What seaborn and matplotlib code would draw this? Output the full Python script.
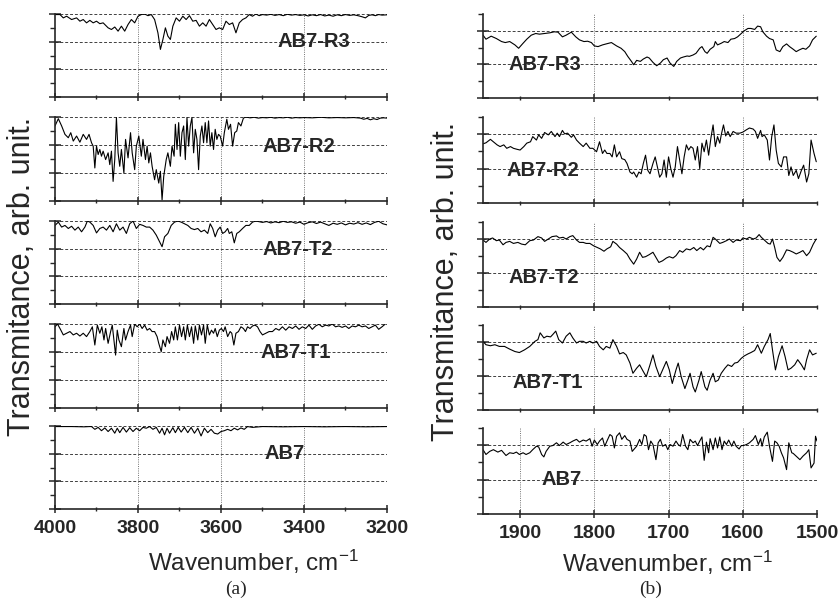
import matplotlib
matplotlib.use("Agg")
import matplotlib.pyplot as plt
from matplotlib.ticker import MultipleLocator
import seaborn as sns

sns.set_style("ticks")
plt.rcParams["font.family"] = ["Liberation Sans", "DejaVu Sans"]
plt.rcParams["mathtext.default"] = "regular"

# ---- data: (wavenumber, transmittance) ----
samples = ["AB7-R3", "AB7-R2", "AB7-T2", "AB7-T1", "AB7"]

# (a) 4000-3200 cm-1
hw_r3 = [(4000, 2.98), (3988, 2.98), (3980, 2.86), (3972, 2.92), (3960, 2.80), (3948, 2.86), (3940, 2.74),
         (3932, 2.80), (3924, 2.68), (3916, 2.77), (3908, 2.68), (3900, 2.74), (3892, 2.65), (3884, 2.68),
         (3872, 2.50), (3864, 2.44), (3856, 2.53), (3848, 2.38), (3840, 2.56), (3832, 2.38), (3824, 2.62),
         (3816, 2.80), (3808, 2.68), (3800, 2.92), (3792, 2.98), (3784, 3.00), (3776, 2.94), (3768, 2.98),
         (3760, 2.80), (3752, 2.32), (3746, 1.72), (3740, 2.08), (3734, 2.50), (3728, 2.20), (3722, 2.08),
         (3716, 2.56), (3708, 2.86), (3700, 2.74), (3692, 2.92), (3684, 2.80), (3676, 2.94), (3668, 2.74),
         (3660, 2.77), (3652, 2.56), (3644, 2.68), (3636, 2.56), (3628, 2.80), (3620, 2.62), (3612, 2.44),
         (3604, 2.50), (3596, 2.44), (3588, 2.74), (3580, 2.62), (3572, 2.68), (3564, 2.32), (3556, 2.68),
         (3548, 2.80), (3540, 2.86), (3532, 2.98), (3524, 2.92), (3516, 3.00), (3508, 2.94), (3500, 2.98),
         (3490, 2.96), (3480, 2.99), (3470, 2.95), (3460, 2.98), (3450, 2.94), (3440, 2.99), (3430, 2.96),
         (3420, 2.98), (3410, 2.95), (3400, 2.97), (3390, 2.93), (3380, 2.97), (3370, 2.94), (3360, 2.98),
         (3350, 2.93), (3340, 2.96), (3330, 2.92), (3320, 2.97), (3310, 2.94), (3300, 2.98), (3290, 2.95),
         (3280, 2.97), (3270, 2.94), (3260, 2.90), (3252, 2.86), (3244, 2.95), (3236, 2.97), (3228, 2.94),
         (3220, 2.98), (3212, 2.96), (3200, 2.97)]

hw_r2 = [(4000, 2.68), (3992, 2.94), (3984, 2.68), (3976, 2.38), (3968, 2.26), (3962, 2.44), (3956, 2.14),
         (3948, 2.32), (3940, 2.10), (3932, 2.38), (3924, 2.20), (3918, 2.38), (3912, 2.08), (3908, 1.96),
         (3904, 1.18), (3900, 1.96), (3896, 1.66), (3892, 1.84), (3888, 1.60), (3884, 1.78), (3878, 1.48),
         (3872, 1.72), (3868, 1.30), (3864, 1.78), (3860, 0.70), (3856, 1.48), (3852, 2.98), (3848, 1.72),
         (3844, 1.24), (3840, 1.84), (3834, 1.00), (3830, 2.20), (3824, 1.54), (3818, 2.44), (3814, 1.72),
         (3808, 1.12), (3804, 1.96), (3798, 2.32), (3792, 1.60), (3788, 2.20), (3782, 1.48), (3778, 1.96),
         (3774, 1.36), (3770, 1.72), (3766, 1.24), (3760, 0.76), (3756, 1.12), (3750, 0.64), (3746, 1.06),
         (3742, 0.04), (3738, 0.88), (3732, 1.48), (3728, 1.72), (3722, 1.24), (3718, 1.96), (3713, 1.60),
         (3710, 2.74), (3706, 1.84), (3702, 2.80), (3698, 1.60), (3694, 2.44), (3690, 2.68), (3686, 1.48),
         (3682, 2.98), (3678, 1.96), (3674, 2.68), (3670, 2.98), (3666, 1.72), (3662, 2.56), (3658, 2.20),
         (3654, 1.12), (3650, 2.32), (3646, 2.68), (3642, 2.08), (3638, 2.80), (3634, 2.08), (3630, 2.86),
         (3626, 1.96), (3622, 2.44), (3618, 1.84), (3614, 2.56), (3610, 2.20), (3606, 2.38), (3602, 2.32),
         (3596, 1.96), (3592, 2.44), (3586, 2.92), (3582, 2.56), (3577, 2.74), (3572, 1.96), (3567, 2.44),
         (3562, 2.50), (3558, 2.80), (3552, 2.68), (3546, 2.96), (3540, 3.00), (3530, 2.97), (3520, 2.99),
         (3510, 2.96), (3500, 2.98), (3490, 2.97), (3480, 2.99), (3470, 2.96), (3460, 2.98), (3450, 2.97),
         (3440, 2.99), (3430, 2.96), (3420, 2.98), (3410, 2.97), (3400, 2.98), (3380, 2.97), (3360, 2.99),
         (3340, 2.97), (3320, 2.98), (3300, 2.97), (3280, 2.98), (3264, 2.96), (3256, 2.92), (3248, 2.95),
         (3240, 2.90), (3232, 2.94), (3224, 2.91), (3216, 2.96), (3208, 2.97), (3200, 2.96)]

hw_t2 = [(4000, 2.84), (3992, 2.96), (3984, 2.78), (3976, 2.84), (3968, 2.73), (3960, 2.81), (3952, 2.67),
         (3944, 2.78), (3936, 2.61), (3928, 2.78), (3922, 3.00), (3916, 2.96), (3908, 2.84), (3900, 2.57),
         (3892, 2.73), (3884, 2.78), (3876, 2.67), (3868, 2.84), (3860, 2.61), (3852, 2.90), (3844, 2.67),
         (3836, 2.78), (3828, 2.55), (3820, 2.90), (3812, 3.00), (3804, 2.73), (3796, 2.88), (3788, 2.84),
         (3780, 2.78), (3772, 2.78), (3764, 2.67), (3756, 2.49), (3748, 2.25), (3742, 2.07), (3736, 2.43),
         (3728, 2.55), (3720, 2.84), (3712, 2.96), (3704, 3.00), (3696, 2.96), (3688, 2.90), (3680, 2.84),
         (3672, 2.73), (3664, 2.69), (3656, 2.73), (3648, 2.61), (3640, 2.67), (3632, 2.55), (3626, 2.90),
         (3620, 2.73), (3614, 2.43), (3608, 2.67), (3602, 2.78), (3596, 2.55), (3590, 2.61), (3584, 2.73),
         (3580, 2.55), (3574, 2.61), (3568, 2.21), (3562, 2.55), (3556, 2.61), (3548, 2.73), (3540, 2.84),
         (3532, 2.84), (3524, 2.96), (3516, 3.00), (3500, 2.95), (3490, 2.98), (3480, 2.93), (3470, 2.97),
         (3460, 2.94), (3450, 2.99), (3440, 2.95), (3430, 2.97), (3420, 2.92), (3410, 2.96), (3400, 2.88),
         (3390, 2.94), (3380, 2.97), (3370, 2.91), (3360, 2.96), (3350, 2.90), (3340, 2.84), (3330, 2.92),
         (3320, 2.88), (3310, 2.93), (3300, 2.86), (3290, 2.92), (3280, 2.89), (3270, 2.94), (3260, 2.88),
         (3250, 2.93), (3240, 2.87), (3230, 2.95), (3220, 2.99), (3210, 2.90), (3200, 2.86)]

hw_t1 = [(4000, 2.90), (3994, 3.00), (3988, 2.84), (3980, 2.61), (3972, 2.67), (3964, 2.73), (3956, 2.61),
         (3948, 2.67), (3940, 2.57), (3932, 2.67), (3924, 2.55), (3916, 2.73), (3910, 2.90), (3904, 2.25),
         (3898, 2.96), (3892, 2.67), (3887, 2.90), (3882, 2.43), (3878, 2.84), (3872, 2.31), (3866, 2.73),
         (3862, 2.96), (3854, 1.89), (3850, 2.78), (3846, 2.43), (3840, 2.19), (3834, 2.84), (3830, 2.43),
         (3824, 2.73), (3818, 2.96), (3814, 2.55), (3808, 3.00), (3802, 2.90), (3796, 3.00), (3790, 2.84),
         (3784, 2.96), (3778, 2.78), (3772, 2.84), (3766, 2.73), (3760, 2.73), (3754, 2.55), (3750, 2.31),
         (3744, 2.01), (3740, 2.43), (3734, 2.19), (3730, 2.55), (3724, 2.31), (3719, 2.73), (3714, 2.43),
         (3710, 2.90), (3705, 2.43), (3700, 2.96), (3695, 2.55), (3690, 2.90), (3686, 2.43), (3681, 2.96),
         (3676, 2.55), (3671, 2.90), (3666, 2.31), (3662, 2.93), (3656, 2.43), (3652, 2.96), (3647, 2.61),
         (3642, 2.96), (3638, 2.31), (3633, 2.96), (3628, 2.61), (3623, 2.78), (3618, 2.67), (3614, 2.84),
         (3609, 2.55), (3604, 2.78), (3599, 2.84), (3594, 2.73), (3590, 2.90), (3584, 2.55), (3578, 2.73),
         (3574, 2.67), (3569, 2.25), (3564, 2.67), (3558, 2.73), (3552, 2.90), (3546, 2.84), (3541, 2.73),
         (3536, 2.90), (3530, 2.84), (3524, 2.93), (3518, 2.96), (3512, 2.90), (3506, 2.73), (3500, 2.61),
         (3492, 2.67), (3484, 2.73), (3476, 2.73), (3468, 2.84), (3460, 2.78), (3452, 2.90), (3444, 2.78),
         (3436, 2.90), (3428, 2.84), (3420, 2.93), (3412, 2.81), (3404, 2.90), (3396, 2.84), (3388, 2.96),
         (3380, 2.81), (3372, 2.93), (3364, 2.99), (3356, 2.90), (3348, 2.96), (3340, 2.93), (3332, 3.00),
         (3324, 2.90), (3316, 2.93), (3308, 2.88), (3300, 2.93), (3292, 2.84), (3284, 2.93), (3276, 2.90),
         (3268, 2.96), (3260, 2.90), (3252, 2.93), (3244, 2.84), (3236, 2.90), (3228, 2.96), (3220, 2.81),
         (3212, 2.90), (3204, 3.00)]

hw_ab7 = [(4000, 2.98), (3960, 2.98), (3930, 2.97), (3916, 2.98), (3912, 2.98), (3904, 2.88), (3896, 2.95),
          (3888, 2.83), (3880, 2.93), (3872, 2.80), (3864, 2.92), (3856, 2.74), (3850, 2.92), (3844, 2.76),
          (3836, 2.95), (3828, 2.78), (3820, 2.94), (3812, 2.80), (3804, 2.92), (3796, 2.83), (3788, 2.95),
          (3780, 2.92), (3772, 2.98), (3764, 2.88), (3756, 2.95), (3748, 2.74), (3742, 2.92), (3736, 2.68),
          (3730, 2.92), (3724, 2.74), (3716, 2.94), (3710, 2.76), (3703, 2.95), (3696, 2.78), (3688, 2.95),
          (3680, 2.76), (3672, 2.95), (3664, 2.74), (3656, 2.92), (3648, 2.64), (3640, 2.92), (3632, 2.76),
          (3624, 2.88), (3616, 2.74), (3608, 2.71), (3600, 2.80), (3592, 2.83), (3584, 2.88), (3576, 2.83),
          (3568, 2.92), (3560, 2.86), (3552, 2.93), (3544, 2.88), (3536, 2.98), (3524, 2.95), (3500, 2.98),
          (3450, 2.97), (3400, 2.98), (3350, 2.97), (3300, 2.98), (3250, 2.97), (3200, 2.98)]

# (b) 1950-1500 cm-1
lw_r3 = [(1950, 1.87), (1946, 1.75), (1939, 1.84), (1932, 1.77), (1925, 1.68), (1920, 1.65), (1914, 1.68),
         (1907, 1.58), (1902, 1.48), (1896, 1.63), (1891, 1.75), (1885, 1.87), (1879, 1.92), (1874, 1.90),
         (1867, 1.92), (1860, 1.94), (1854, 1.97), (1849, 1.96), (1843, 1.82), (1838, 1.87), (1831, 1.96),
         (1825, 1.82), (1820, 1.73), (1814, 1.68), (1809, 1.69), (1804, 1.65), (1800, 1.55), (1795, 1.53),
         (1789, 1.58), (1784, 1.61), (1777, 1.65), (1770, 1.55), (1764, 1.48), (1759, 1.38), (1755, 1.24),
         (1750, 1.09), (1747, 0.99), (1743, 1.12), (1738, 1.09), (1734, 1.16), (1729, 1.22), (1726, 1.19),
         (1721, 1.06), (1716, 0.96), (1711, 1.04), (1707, 1.14), (1702, 1.19), (1698, 1.04), (1693, 0.94),
         (1689, 1.09), (1684, 1.19), (1680, 1.22), (1675, 1.25), (1672, 1.24), (1667, 1.28), (1663, 1.33),
         (1658, 1.48), (1655, 1.53), (1651, 1.38), (1648, 1.33), (1644, 1.45), (1639, 1.53), (1637, 1.68),
         (1634, 1.58), (1629, 1.63), (1625, 1.68), (1620, 1.65), (1616, 1.75), (1611, 1.77), (1607, 1.82),
         (1602, 1.92), (1598, 2.00), (1593, 2.07), (1589, 2.07), (1584, 2.04), (1580, 2.14), (1576, 2.12),
         (1573, 1.97), (1568, 1.84), (1564, 1.77), (1559, 1.73), (1555, 1.43), (1550, 1.38), (1546, 1.53),
         (1541, 1.61), (1537, 1.53), (1532, 1.45), (1528, 1.38), (1524, 1.43), (1519, 1.48), (1515, 1.45),
         (1510, 1.55), (1506, 1.73), (1501, 1.84)]

lw_r2 = [(1950, 1.72), (1946, 1.75), (1940, 1.85), (1936, 1.78), (1931, 1.69), (1927, 1.64), (1922, 1.69),
         (1918, 1.59), (1913, 1.64), (1909, 1.59), (1904, 1.56), (1900, 1.54), (1895, 1.64), (1891, 1.74),
         (1886, 1.78), (1883, 1.93), (1878, 1.83), (1875, 1.98), (1871, 1.88), (1867, 2.05), (1862, 1.98),
         (1858, 2.08), (1853, 1.93), (1850, 2.03), (1847, 1.93), (1843, 2.11), (1840, 2.01), (1836, 2.03),
         (1831, 1.91), (1828, 1.98), (1824, 1.83), (1820, 1.74), (1815, 1.64), (1811, 1.74), (1806, 1.59),
         (1802, 1.59), (1797, 1.49), (1793, 1.78), (1789, 1.44), (1786, 1.54), (1783, 1.44), (1779, 1.44),
         (1776, 1.34), (1773, 1.69), (1770, 1.34), (1766, 1.49), (1763, 1.29), (1759, 1.26), (1756, 1.15),
         (1752, 0.90), (1749, 0.85), (1747, 0.90), (1743, 0.75), (1740, 0.90), (1737, 0.85), (1734, 1.15),
         (1731, 1.39), (1728, 0.95), (1725, 0.85), (1721, 1.15), (1718, 1.34), (1715, 1.05), (1712, 0.75),
         (1709, 0.85), (1706, 1.25), (1703, 0.75), (1700, 1.34), (1697, 1.00), (1694, 0.75), (1691, 1.05),
         (1688, 1.64), (1685, 1.25), (1682, 0.85), (1679, 1.34), (1676, 1.69), (1673, 1.54), (1670, 1.64),
         (1667, 1.59), (1664, 1.25), (1661, 1.64), (1658, 1.00), (1655, 1.74), (1652, 1.49), (1649, 1.83),
         (1646, 1.39), (1643, 1.88), (1640, 2.27), (1637, 1.64), (1634, 1.93), (1631, 1.74), (1629, 1.98),
         (1626, 2.27), (1623, 1.95), (1620, 2.08), (1617, 1.93), (1613, 2.08), (1609, 2.03), (1604, 2.03),
         (1600, 2.06), (1595, 2.13), (1591, 2.18), (1586, 2.15), (1583, 2.08), (1580, 1.88), (1576, 2.11),
         (1574, 1.93), (1571, 1.98), (1567, 1.83), (1564, 1.25), (1561, 1.93), (1558, 2.27), (1555, 1.54),
         (1552, 1.15), (1548, 1.05), (1545, 1.34), (1541, 1.34), (1538, 0.80), (1535, 1.05), (1532, 0.80),
         (1528, 0.95), (1525, 0.71), (1521, 0.95), (1518, 1.10), (1514, 0.61), (1511, 0.85), (1508, 1.83),
         (1504, 1.44), (1501, 1.20)]

lw_t2 = [(1950, 1.97), (1946, 1.90), (1941, 2.00), (1937, 2.03), (1932, 1.95), (1928, 1.97), (1923, 1.83),
         (1919, 1.90), (1914, 1.93), (1909, 1.87), (1903, 1.90), (1898, 1.85), (1893, 1.83), (1887, 1.95),
         (1882, 1.97), (1876, 2.07), (1871, 2.03), (1867, 1.93), (1862, 2.00), (1857, 2.07), (1851, 2.09),
         (1847, 2.03), (1842, 2.05), (1838, 2.00), (1833, 2.07), (1829, 2.10), (1824, 1.97), (1820, 1.90),
         (1815, 1.90), (1811, 1.87), (1806, 1.87), (1801, 1.80), (1796, 1.75), (1792, 1.71), (1787, 1.64),
         (1783, 1.71), (1778, 1.77), (1775, 1.93), (1770, 1.85), (1766, 1.75), (1761, 1.66), (1756, 1.56),
         (1752, 1.41), (1747, 1.26), (1743, 1.41), (1739, 1.61), (1735, 1.46), (1731, 1.48), (1726, 1.54),
         (1721, 1.61), (1717, 1.46), (1713, 1.31), (1708, 1.36), (1703, 1.44), (1699, 1.48), (1694, 1.44),
         (1690, 1.51), (1685, 1.66), (1681, 1.61), (1676, 1.71), (1671, 1.68), (1666, 1.75), (1662, 1.66),
         (1657, 1.75), (1653, 1.68), (1648, 1.80), (1644, 1.77), (1640, 2.05), (1637, 2.00), (1631, 1.87),
         (1627, 1.90), (1622, 1.95), (1618, 2.00), (1613, 1.90), (1609, 1.97), (1603, 1.95), (1600, 2.03),
         (1595, 2.00), (1591, 2.05), (1586, 2.00), (1582, 2.03), (1578, 2.13), (1575, 2.05), (1571, 1.97),
         (1566, 1.87), (1563, 1.85), (1560, 2.00), (1557, 1.75), (1554, 1.46), (1550, 1.34), (1546, 1.46),
         (1541, 1.68), (1537, 1.66), (1532, 1.61), (1528, 1.56), (1523, 1.61), (1519, 1.66), (1514, 1.51),
         (1510, 1.61), (1505, 1.85), (1501, 2.00)]

lw_t1 = [(1950, 2.02), (1946, 1.92), (1940, 1.89), (1934, 1.92), (1928, 1.87), (1921, 1.87), (1914, 1.79),
         (1907, 1.72), (1901, 1.69), (1894, 1.77), (1887, 1.87), (1880, 2.02), (1876, 2.07), (1873, 2.27),
         (1868, 2.12), (1864, 2.17), (1859, 2.15), (1856, 2.22), (1852, 2.32), (1848, 2.07), (1843, 1.97),
         (1838, 2.17), (1833, 2.27), (1829, 2.12), (1824, 1.97), (1820, 2.02), (1815, 2.02), (1811, 1.97),
         (1806, 2.02), (1802, 1.97), (1797, 2.02), (1793, 1.87), (1788, 1.77), (1784, 1.87), (1779, 1.82),
         (1775, 2.07), (1770, 1.87), (1766, 1.65), (1761, 1.69), (1757, 1.62), (1752, 1.38), (1748, 1.08),
         (1743, 1.23), (1739, 1.33), (1734, 1.13), (1730, 0.98), (1725, 1.33), (1721, 1.62), (1717, 1.28),
         (1712, 0.98), (1708, 1.18), (1703, 1.43), (1699, 1.18), (1695, 0.78), (1690, 1.18), (1687, 1.38),
         (1683, 0.98), (1678, 0.63), (1674, 0.88), (1671, 1.08), (1667, 0.68), (1664, 0.53), (1659, 0.88),
         (1656, 1.13), (1651, 0.68), (1648, 0.58), (1644, 0.88), (1640, 1.08), (1637, 0.83), (1633, 0.88),
         (1629, 1.08), (1624, 1.23), (1620, 1.33), (1615, 1.28), (1611, 1.38), (1607, 1.40), (1602, 1.52),
         (1598, 1.59), (1593, 1.65), (1589, 1.69), (1584, 1.75), (1580, 1.92), (1575, 1.67), (1571, 1.87),
         (1566, 2.07), (1563, 2.25), (1560, 1.77), (1556, 1.18), (1552, 1.57), (1547, 1.89), (1543, 1.57),
         (1539, 1.18), (1535, 1.23), (1530, 1.33), (1526, 1.48), (1521, 1.33), (1517, 1.18), (1514, 1.48),
         (1510, 1.77), (1506, 1.62), (1501, 1.67)]

lw_ab7 = [(1950, 1.87), (1946, 1.73), (1941, 1.82), (1936, 1.87), (1930, 1.80), (1925, 1.85), (1919, 1.70),
          (1914, 1.78), (1909, 1.76), (1905, 1.80), (1901, 1.73), (1896, 1.78), (1892, 1.73), (1887, 1.78),
          (1883, 1.87), (1878, 1.97), (1875, 1.95), (1871, 1.73), (1868, 1.66), (1865, 1.82), (1860, 1.97),
          (1856, 1.99), (1851, 2.07), (1847, 1.99), (1842, 2.09), (1838, 2.02), (1833, 2.07), (1829, 2.12),
          (1824, 2.17), (1820, 2.09), (1815, 2.15), (1811, 2.12), (1806, 2.19), (1803, 1.97), (1800, 2.15),
          (1796, 2.02), (1793, 2.12), (1789, 2.21), (1786, 1.97), (1783, 2.12), (1779, 2.31), (1776, 2.26),
          (1773, 1.92), (1770, 2.26), (1766, 2.36), (1763, 2.17), (1759, 2.28), (1756, 2.17), (1752, 2.12),
          (1749, 1.82), (1745, 1.92), (1743, 1.97), (1739, 2.17), (1736, 2.02), (1733, 2.31), (1730, 2.26),
          (1727, 1.87), (1724, 2.12), (1721, 2.02), (1717, 1.58), (1714, 2.07), (1711, 2.17), (1708, 1.97),
          (1704, 2.02), (1701, 1.87), (1698, 2.02), (1694, 1.97), (1690, 2.12), (1687, 2.02), (1684, 1.97),
          (1681, 2.31), (1677, 1.97), (1674, 1.87), (1671, 2.17), (1667, 2.07), (1664, 2.12), (1661, 1.99),
          (1658, 2.12), (1655, 2.24), (1652, 1.56), (1649, 2.09), (1646, 1.78), (1644, 2.19), (1640, 1.87),
          (1637, 2.21), (1634, 1.92), (1631, 2.24), (1628, 1.87), (1625, 2.12), (1622, 2.02), (1619, 2.15),
          (1615, 1.97), (1612, 2.12), (1609, 1.97), (1605, 1.89), (1602, 1.99), (1599, 1.99), (1595, 2.02),
          (1591, 2.07), (1586, 2.17), (1583, 2.28), (1579, 2.02), (1576, 2.19), (1574, 1.97), (1571, 2.24),
          (1567, 2.38), (1564, 1.97), (1560, 1.53), (1557, 2.12), (1554, 2.07), (1551, 1.97), (1548, 1.78),
          (1545, 1.63), (1541, 1.29), (1538, 2.07), (1534, 1.78), (1532, 1.76), (1528, 1.68), (1523, 1.58),
          (1519, 1.68), (1514, 1.78), (1511, 1.87), (1508, 1.34), (1504, 1.48), (1502, 2.26), (1500, 2.12)]

hw_spectra = [hw_r3, hw_r2, hw_t2, hw_t1, hw_ab7]
lw_spectra = [lw_r3, lw_r2, lw_t2, lw_t1, lw_ab7]

hw_ticks = [4000, 3800, 3600, 3400, 3200]
lw_ticks = [1900, 1800, 1700, 1600, 1500]

# label anchors (wavenumber, transmittance) inside each panel
hw_label_x = [3465, 3501, 3501, 3506, 3494]
hw_label_y = [2.0, 1.96, 1.96, 2.0, 2.0]
lw_label_x = [1916, 1918, 1916, 1910, 1871]
lw_label_y = [1.0, 0.95, 0.87, 0.82, 1.0]

# ---- layout (pixels of the 840x600 canvas) ----
W, H = 840, 600
hw_left, hw_right = 55, 387
hw_tops = [14, 117, 221, 324, 426]
hw_bots = [97, 201, 304, 408, 509]
lw_left, lw_right = 483, 817
lw_tops = [14, 117, 222, 325, 428]
lw_bots = [98, 203, 307, 410, 514]

fig = plt.figure(figsize=(8.4, 6), dpi=100)


def make_ax(x0, x1, top, bot):
    return fig.add_axes([x0 / W, 1 - bot / H, (x1 - x0) / W, (bot - top) / H])


def style(ax, ymax, hlines, vlines):
    sns.despine(ax=ax)
    for s in ["left", "bottom"]:
        ax.spines[s].set_linewidth(1.2)
    ax.set_ylim(0, ymax)
    ax.yaxis.set_major_locator(MultipleLocator(1))
    ax.yaxis.set_minor_locator(MultipleLocator(0.5))
    ax.tick_params(axis="y", which="major", direction="inout", length=8, width=1.1, labelleft=False)
    ax.tick_params(axis="y", which="minor", direction="out", length=3.5, width=1.0)
    ax.tick_params(axis="x", which="major", direction="inout", length=5.5, width=1.1)
    ax.tick_params(axis="x", which="minor", direction="inout", length=3, width=1.0)
    for gy in hlines:
        ax.axhline(gy, color="0.25", lw=0.7, ls=(0, (3, 2)), zorder=0)
    for gx in vlines:
        ax.axvline(gx, color="0.45", lw=0.7, ls=(0, (1, 1.3)), zorder=0)
    ax.set_xlabel("")
    ax.set_ylabel("")


for i, name in enumerate(samples):
    # left column: 4000-3200
    ax = make_ax(hw_left, hw_right, hw_tops[i], hw_bots[i])
    wn, tr = zip(*hw_spectra[i])
    sns.lineplot(x=list(wn), y=list(tr), ax=ax, color="black", linewidth=0.8,
                 estimator=None, sort=False)
    ax.set_xlim(4000, 3200)
    ax.xaxis.set_major_locator(MultipleLocator(200))
    ax.xaxis.set_minor_locator(MultipleLocator(100))
    style(ax, 3, [1, 2, 3], [3800, 3600, 3400])
    ax.text(hw_label_x[i], hw_label_y[i], name, fontsize=14.5, fontweight="bold",
            ha="left", va="center")
    if i == len(samples) - 1:
        ax.set_xticks(hw_ticks)
        ax.set_xticklabels([str(t) for t in hw_ticks], fontsize=14, fontweight="bold")
        ax.tick_params(axis="x", which="major", pad=5)
    else:
        ax.tick_params(axis="x", labelbottom=False)

    # right column: 1950-1500
    ax = make_ax(lw_left, lw_right, lw_tops[i], lw_bots[i])
    wn, tr = zip(*lw_spectra[i])
    sns.lineplot(x=list(wn), y=list(tr), ax=ax, color="black", linewidth=0.8,
                 estimator=None, sort=False)
    ax.set_xlim(1950, 1500)
    if i == len(samples) - 1:
        ax.xaxis.set_major_locator(MultipleLocator(100))
        ax.xaxis.set_minor_locator(MultipleLocator(1000))
        style(ax, 2.5, [1, 2], [1900, 1800, 1700, 1600])
        ax.set_xticks(lw_ticks)
        ax.set_xticklabels([str(t) for t in lw_ticks], fontsize=14, fontweight="bold")
        ax.tick_params(axis="x", which="major", pad=5)
    else:
        ax.xaxis.set_major_locator(MultipleLocator(200))
        ax.xaxis.set_minor_locator(MultipleLocator(100))
        style(ax, 2.5, [1, 2], [1800, 1600])
        ax.tick_params(axis="x", labelbottom=False)
    ax.text(lw_label_x[i], lw_label_y[i], name, fontsize=14.5, fontweight="bold",
            ha="left", va="center")

# shared labels
ylab = "Transmitance, arb. unit."
fig.text(22 / W, 1 - 276 / H, ylab, rotation=90, fontsize=22, ha="center", va="center")
fig.text(446 / W, 1 - 281 / H, ylab, rotation=90, fontsize=22, ha="center", va="center")
fig.text(253 / W, 1 - 562 / H, "Wavenumber, cm$^{-1}$", fontsize=17.5, ha="center", va="center")
fig.text(667 / W, 1 - 563 / H, "Wavenumber, cm$^{-1}$", fontsize=17.5, ha="center", va="center")
fig.text(236 / W, 1 - 589 / H, "(a)", family="Liberation Serif", fontsize=14, ha="center", va="center")
fig.text(651 / W, 1 - 589 / H, "(b)", family="Liberation Serif", fontsize=14, ha="center", va="center")

fig.savefig("out.png", dpi=100)
